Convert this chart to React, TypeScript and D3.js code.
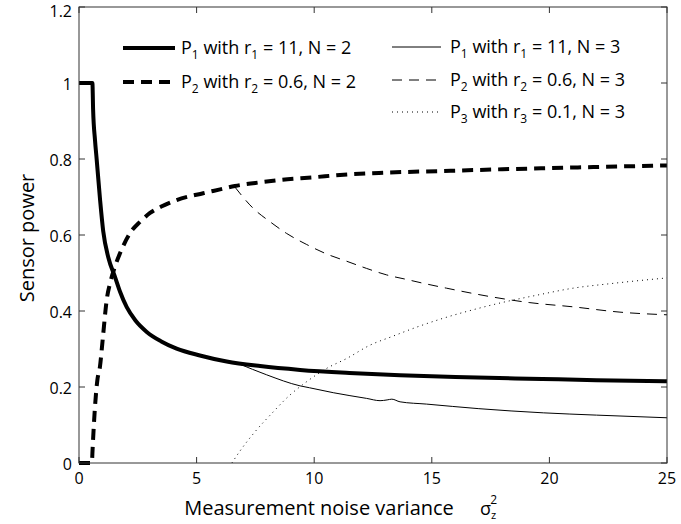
import React from "react";
import * as d3 from "d3";

const xTicks = [0, 5, 10, 15, 20, 25];
const yTicks = [0, 0.2, 0.4, 0.6, 0.8, 1, 1.2];
const yTickLabels = ["0", "0.2", "0.4", "0.6", "0.8", "1", "1.2"];

const p1N2X = [0, 0.57, 0.6, 0.68, 0.75, 0.9, 1.03, 1.25, 1.53, 1.75, 2.03, 2.4, 2.88, 3.5, 4.15, 5.14, 6.28, 7.7, 9.4, 11.5, 13.65, 16, 19.7, 22, 25];
const p1N2Y = [1, 1, 0.93, 0.85, 0.8, 0.69, 0.61, 0.54, 0.49, 0.45, 0.41, 0.375, 0.345, 0.32, 0.301, 0.283, 0.267, 0.255, 0.245, 0.237, 0.231, 0.226, 0.221, 0.218, 0.215];

const p2N2X = [0, 0.55, 0.57, 0.68, 0.78, 0.89, 1.0, 1.18, 1.35, 1.53, 1.8, 2.17, 2.6, 3.02, 3.5, 4.15, 5.28, 6.0, 6.63, 7.5, 8.55, 10, 11.1, 13, 15.8, 18, 20, 22, 25];
const p2N2Y = [0, 0, 0.026, 0.148, 0.218, 0.253, 0.32, 0.43, 0.48, 0.517, 0.56, 0.605, 0.635, 0.658, 0.675, 0.692, 0.71, 0.72, 0.729, 0.737, 0.745, 0.752, 0.758, 0.764, 0.769, 0.773, 0.776, 0.779, 0.783];

const p1N3X = [6.77, 7.98, 9.4, 9.8, 10.81, 12.23, 12.8, 13.1, 13.3, 13.65, 14.78, 17, 19.74, 22, 25];
const p1N3Y = [0.262, 0.232, 0.203, 0.198, 0.185, 0.17, 0.164, 0.166, 0.168, 0.161, 0.155, 0.143, 0.132, 0.126, 0.119];

const p2N3X = [6.63, 7.41, 8.12, 8.83, 9.68, 10.53, 11.38, 12.23, 13.08, 13.93, 14.78, 15.63, 17.47, 19.17, 21, 23, 25];
const p2N3Y = [0.726, 0.67, 0.635, 0.604, 0.575, 0.55, 0.531, 0.512, 0.495, 0.483, 0.471, 0.46, 0.438, 0.422, 0.411, 0.397, 0.39];

const p3N3X = [6.5, 6.85, 7.48, 8.19, 8.9, 9.68, 10.53, 11.38, 12.37, 13.36, 14.2, 15.49, 16.8, 18.18, 19.5, 21, 22.6, 24.3, 25];
const p3N3Y = [0, 0.032, 0.082, 0.13, 0.175, 0.214, 0.249, 0.275, 0.31, 0.334, 0.354, 0.381, 0.404, 0.425, 0.442, 0.46, 0.472, 0.483, 0.487];

const W = 681;
const H = 524;
const M = { left: 79, right: 14, top: 7, bottom: 61 };
const FONT = "'Open Sans', 'Noto Sans', sans-serif";

type Series = { xs: number[]; ys: number[]; width: number; dash: string | null; sub: string; r: string; n: string };

const series: Series[] = [
  { xs: p1N2X, ys: p1N2Y, width: 4, dash: null, sub: "1", r: "11", n: "2" },
  { xs: p2N2X, ys: p2N2Y, width: 4, dash: "11,7", sub: "2", r: "0.6", n: "2" },
  { xs: p1N3X, ys: p1N3Y, width: 1, dash: null, sub: "1", r: "11", n: "3" },
  { xs: p2N3X, ys: p2N3Y, width: 1, dash: "10,7", sub: "2", r: "0.6", n: "3" },
  { xs: p3N3X, ys: p3N3Y, width: 1, dash: "1,4", sub: "3", r: "0.1", n: "3" },
];

function LegendLabel({ x, y, s }: { x: number; y: number; s: Series }) {
  return (
    <text x={x} y={y + 6} fontFamily={FONT} fontSize={18} fill="#000">
      <tspan>P</tspan>
      <tspan fontSize={12} dy={5}>{s.sub}</tspan>
      <tspan dy={-5}> with r</tspan>
      <tspan fontSize={12} dy={5}>{s.sub}</tspan>
      <tspan dy={-5}>{` = ${s.r}, N = ${s.n}`}</tspan>
    </text>
  );
}

export default function App() {
  const x = d3.scaleLinear().domain([0, 25]).range([M.left, W - M.right]);
  const y = d3.scaleLinear().domain([0, 1.2]).range([H - M.bottom, M.top]);
  const line = d3
    .line<[number, number]>()
    .x((d) => x(d[0]))
    .y((d) => y(d[1]))
    .curve(d3.curveMonotoneX);

  const x0 = M.left, x1 = W - M.right, y0 = H - M.bottom, y1 = M.top;
  const axisColor = "#333";
  const legendLeft = [
    { s: series[0], y: 48 },
    { s: series[1], y: 82 },
  ];
  const legendRight = [
    { s: series[2], y: 47 },
    { s: series[3], y: 80 },
    { s: series[4], y: 112 },
  ];

  return (
    <svg width={W} height={H} style={{ position: "absolute", left: 0, top: 0, background: "#fff" }}>
      <rect x={0} y={0} width={W} height={H} fill="#fff" />
      {xTicks.map((t) => (
        <g key={"xt" + t}>
          <line x1={x(t)} x2={x(t)} y1={y0} y2={y0 - 6} stroke={axisColor} />
          <line x1={x(t)} x2={x(t)} y1={y1} y2={y1 + 6} stroke={axisColor} />
          <text x={x(t)} y={y0 + 21} textAnchor="middle" fontFamily={FONT} fontSize={16} fill="#000">
            {t}
          </text>
        </g>
      ))}
      {yTicks.map((t, i) => (
        <g key={"yt" + t}>
          <line x1={x0} x2={x0 + 6} y1={y(t)} y2={y(t)} stroke={axisColor} />
          <line x1={x1} x2={x1 - 6} y1={y(t)} y2={y(t)} stroke={axisColor} />
          <text x={x0 - 7} y={Math.max(y(t) + 7, 17)} textAnchor="end" fontFamily={FONT} fontSize={16} fill="#000">
            {yTickLabels[i]}
          </text>
        </g>
      ))}
      {series.map((s, i) => (
        <path
          key={"s" + i}
          d={line(s.xs.map((v, j) => [v, s.ys[j]] as [number, number])) || ""}
          fill="none"
          stroke="#000"
          strokeWidth={s.width}
          strokeDasharray={s.dash || undefined}
        />
      ))}
      <rect x={x0} y={y1} width={x1 - x0} height={y0 - y1} fill="none" stroke={axisColor} strokeWidth={1} />
      {legendLeft.map((l, i) => (
        <g key={"ll" + i}>
          <line x1={123} x2={175} y1={l.y} y2={l.y} stroke="#000" strokeWidth={l.s.width} strokeDasharray={l.s.dash || undefined} />
          <LegendLabel x={181} y={l.y} s={l.s} />
        </g>
      ))}
      {legendRight.map((l, i) => (
        <g key={"lr" + i}>
          <line x1={392} x2={441} y1={l.y} y2={l.y} stroke="#000" strokeWidth={l.s.width} strokeDasharray={l.s.dash || undefined} />
          <LegendLabel x={450} y={l.y} s={l.s} />
        </g>
      ))}
      <text x={319} y={515} textAnchor="middle" fontFamily={FONT} fontSize={20} fill="#000">
        Measurement noise variance
      </text>
      <text x={480} y={515} fontFamily={FONT} fontSize={18} fill="#000">
        <tspan>σ</tspan>
        <tspan fontSize={11} dy={4}>z</tspan>
        <tspan fontSize={12} dy={-15} dx={-6}>2</tspan>
      </text>
      <text
        transform={`translate(34, 238) rotate(-90)`}
        textAnchor="middle"
        fontFamily={FONT}
        fontSize={20}
        fill="#000"
      >
        Sensor power
      </text>
    </svg>
  );
}
